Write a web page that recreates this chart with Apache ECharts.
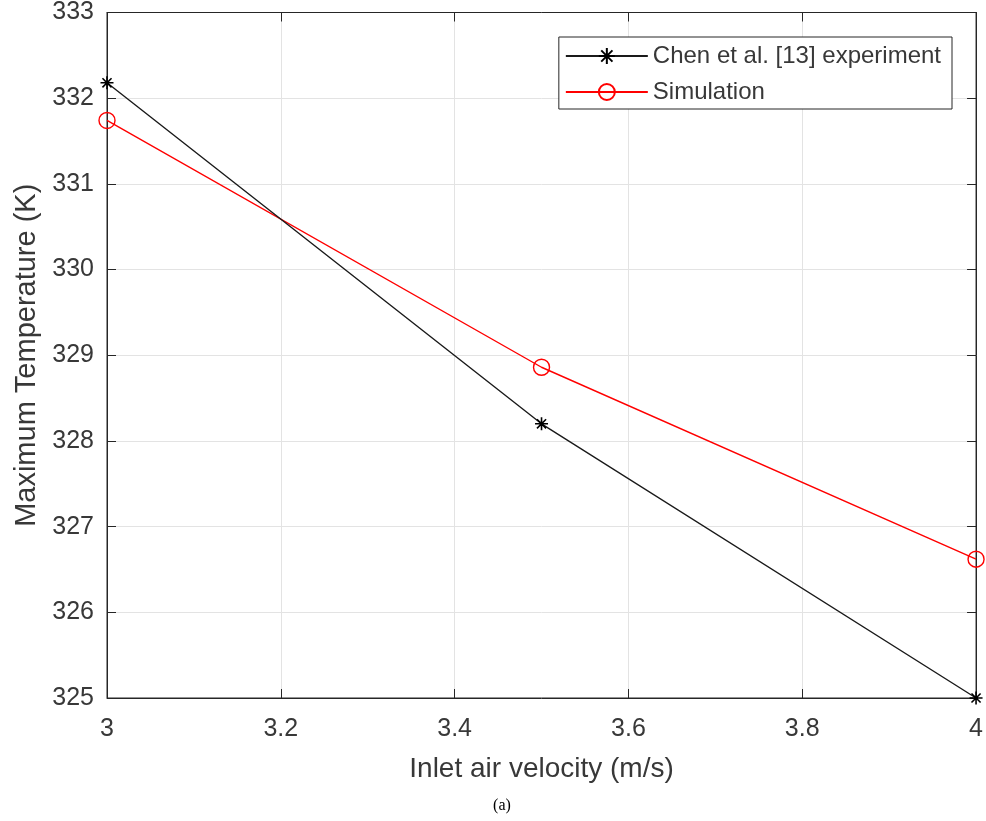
<!DOCTYPE html>
<html>
<head>
<meta charset="utf-8">
<script src="https://cdn.jsdelivr.net/npm/echarts@6/dist/echarts.min.js"></script>
<style>
  html, body { margin: 0; padding: 0; background: #fff; }
  #main { width: 986px; height: 821px; }
</style>
</head>
<body>
<div id="main"></div>
<script>
// inlet air velocity (m/s)
var velocity = [3, 3.5, 4];
// maximum temperature (K)
var chenExp = [332.18, 328.2, 325.0];
var simulation = [331.74, 328.86, 326.62];

var star = 'path://M0,-6L0,6M-6,0L6,0M-4.2,-4.2L4.2,4.2M-4.2,4.2L4.2,-4.2';
var txt = '#383838';
var fnt = 'Liberation Sans, Arial, sans-serif';

function pairs(xs, ys) {
  return xs.map(function (x, i) { return [x, ys[i]]; });
}

var chart = echarts.init(document.getElementById('main'));
var option = {
  animation: false,
  backgroundColor: '#fff',
  grid: {
    left: 107, right: 9, top: 12, bottom: 123,
    show: true, borderColor: '#262626', borderWidth: 1, backgroundColor: '#fff'
  },
  legend: {
    right: 34, top: 37,
    orient: 'vertical',
    backgroundColor: '#fff',
    borderColor: '#262626', borderWidth: 1,
    padding: [7, 11, 5, 6],
    itemWidth: 82, itemHeight: 20, itemGap: 12,
    textStyle: { color: txt, fontSize: 24, fontFamily: fnt },
    data: ['Chen et al. [13] experiment', 'Simulation']
  },
  xAxis: [{
    type: 'value', min: 3, max: 4, interval: 0.2,
    name: 'Inlet air velocity (m/s)', nameLocation: 'middle', nameGap: 57,
    nameTextStyle: { color: txt, fontSize: 28, fontFamily: fnt },
    axisLine: { lineStyle: { color: '#262626' } },
    axisTick: { inside: true, length: 9, lineStyle: { color: '#262626' } },
    axisLabel: { color: txt, fontSize: 25, fontFamily: fnt, margin: 19,
      formatter: function (v) { return +v.toFixed(1) + ''; } },
    splitLine: { lineStyle: { color: '#e3e3e3' } }
  }, {
    type: 'value', min: 3, max: 4, interval: 0.2, position: 'top',
    axisLine: { lineStyle: { color: '#262626' } },
    axisTick: { inside: true, length: 9, lineStyle: { color: '#262626' } },
    axisLabel: { show: false }, splitLine: { show: false }
  }],
  yAxis: [{
    type: 'value', min: 325, max: 333, interval: 1,
    name: 'Maximum Temperature (K)', nameLocation: 'middle', nameGap: 64,
    nameTextStyle: { color: txt, fontSize: 29, fontFamily: fnt },
    axisLine: { show: true, lineStyle: { color: '#262626' } },
    axisTick: { show: true, inside: true, length: 9, lineStyle: { color: '#262626' } },
    axisLabel: { color: txt, fontSize: 25, fontFamily: fnt, margin: 13 },
    splitLine: { lineStyle: { color: '#e3e3e3' } }
  }, {
    type: 'value', min: 325, max: 333, interval: 1, position: 'right',
    axisLine: { show: true, lineStyle: { color: '#262626' } },
    axisTick: { show: true, inside: true, length: 9, lineStyle: { color: '#262626' } },
    axisLabel: { show: false }, splitLine: { show: false }
  }],
  series: [{
    name: 'Chen et al. [13] experiment',
    type: 'line',
    data: pairs(velocity, chenExp),
    symbol: star, symbolSize: 13,
    lineStyle: { color: '#1a1a1a', width: 1.4 },
    itemStyle: { color: '#000', borderColor: '#000', borderWidth: 1.6 },
    z: 3
  }, {
    name: 'Simulation',
    type: 'line',
    data: pairs(velocity, simulation),
    symbol: 'circle', symbolSize: 16,
    showAllSymbol: true,
    lineStyle: { color: '#ff0000', width: 1.4 },
    itemStyle: { color: 'rgba(255,255,255,0)', borderColor: '#ff0000', borderWidth: 1.4 },
    z: 2
  }],
  graphic: [{
    type: 'text', x: 502, y: 806,
    style: { text: '(a)', fill: '#000', font: '16px "Liberation Serif", serif',
      textAlign: 'center', textVerticalAlign: 'middle' }
  }]
};
chart.setOption(option);
</script>
</body>
</html>
